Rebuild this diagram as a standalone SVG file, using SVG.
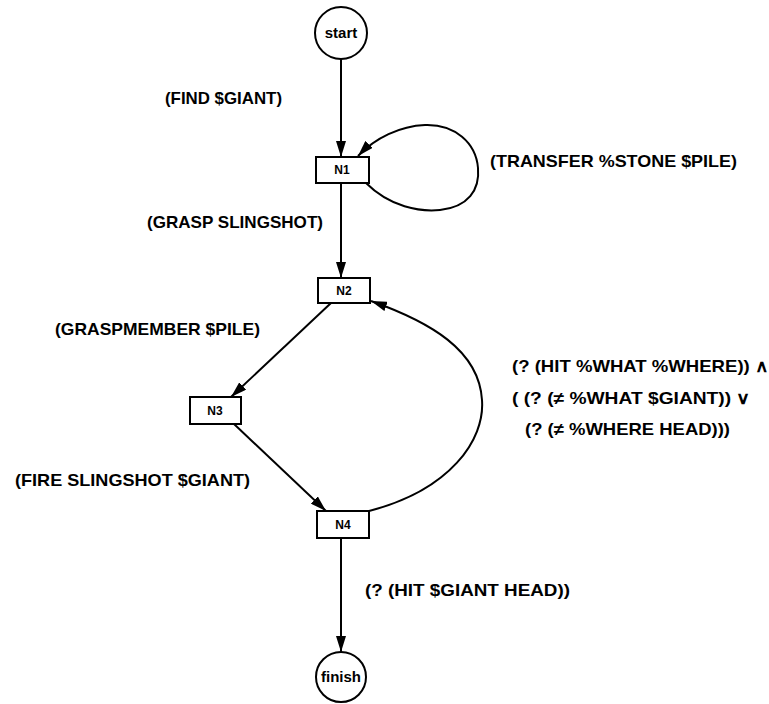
<svg xmlns="http://www.w3.org/2000/svg" width="769" height="704" viewBox="0 0 769 704">
<defs>
<style>
.bg{fill:#fff}
.node{fill:#fff;stroke:#000;stroke-width:2}
.edge{fill:none;stroke:#000;stroke-width:2}
.lbl{font-family:"Liberation Sans",Arial,sans-serif;font-weight:bold;font-size:17px;fill:#000}
.nt{font-family:"Liberation Sans",Arial,sans-serif;font-weight:bold;font-size:12px;fill:#000;text-anchor:middle}
.ct{font-family:"Liberation Sans",Arial,sans-serif;font-weight:bold;font-size:15px;fill:#000;text-anchor:middle}
</style>
<marker id="arr" viewBox="0 0 16 10" refX="16" refY="5" markerWidth="16" markerHeight="10" markerUnits="userSpaceOnUse" orient="auto">
<path d="M0,0 L16,5 L0,10 z" fill="#000"/>
</marker>
</defs>
<rect class="bg" x="0" y="0" width="769" height="704"/>
<g id="connectors">
<line class="edge" x1="341" y1="59" x2="341" y2="157" marker-end="url(#arr)"/>
<line class="edge" x1="341" y1="183" x2="341" y2="278" marker-end="url(#arr)"/>
<line class="edge" x1="331" y1="303" x2="231" y2="397" marker-end="url(#arr)"/>
<line class="edge" x1="234" y1="424" x2="326" y2="511" marker-end="url(#arr)"/>
<line class="edge" x1="341" y1="538" x2="341" y2="652" marker-end="url(#arr)"/>
<path class="edge" d="M366,183 C390,207 420,212 440,210 C468,207 480,190 478,168 C476,143 455,124 425,125 C400,126 375,138 358,156" marker-end="url(#arr)"/>
<path class="edge" d="M369,511 C450,490 485,440 482,400 C479,350 430,322 371,301" marker-end="url(#arr)"/>
</g>
<g id="labels">
<text class="lbl" x="165" y="104" textLength="117" lengthAdjust="spacingAndGlyphs">(FIND $GIANT)</text>
<text class="lbl" x="490" y="167" textLength="247" lengthAdjust="spacingAndGlyphs">(TRANSFER %STONE $PILE)</text>
<text class="lbl" x="147" y="228" textLength="176" lengthAdjust="spacingAndGlyphs">(GRASP SLINGSHOT)</text>
<text class="lbl" x="55" y="335" textLength="205" lengthAdjust="spacingAndGlyphs">(GRASPMEMBER $PILE)</text>
<text class="lbl" x="512" y="372" textLength="256" lengthAdjust="spacingAndGlyphs">(? (HIT %WHAT %WHERE)) ∧</text>
<text class="lbl" x="512" y="404" textLength="238" lengthAdjust="spacingAndGlyphs">( (? (≠ %WHAT $GIANT)) ∨</text>
<text class="lbl" x="525" y="435" textLength="205" lengthAdjust="spacingAndGlyphs">(? (≠ %WHERE HEAD)))</text>
<text class="lbl" x="15" y="486" textLength="235" lengthAdjust="spacingAndGlyphs">(FIRE SLINGSHOT $GIANT)</text>
<text class="lbl" x="365" y="596" textLength="205" lengthAdjust="spacingAndGlyphs">(? (HIT $GIANT HEAD))</text>
</g>
<g id="start">
<circle class="node" cx="341" cy="33" r="26"/>
<text class="ct" x="341" y="38">start</text>
</g>
<g id="N1">
<rect class="node" x="316" y="157" width="53" height="26"/>
<text class="nt" x="342" y="174">N1</text>
</g>
<g id="N2">
<rect class="node" x="318" y="278" width="52" height="25"/>
<text class="nt" x="344" y="295">N2</text>
</g>
<g id="N3">
<rect class="node" x="190" y="397" width="51" height="27"/>
<text class="nt" x="215" y="415">N3</text>
</g>
<g id="N4">
<rect class="node" x="317" y="511" width="52" height="27"/>
<text class="nt" x="343" y="529">N4</text>
</g>
<g id="finish">
<circle class="node" cx="341" cy="677" r="25"/>
<text class="ct" x="341" y="682">finish</text>
</g>
</svg>
